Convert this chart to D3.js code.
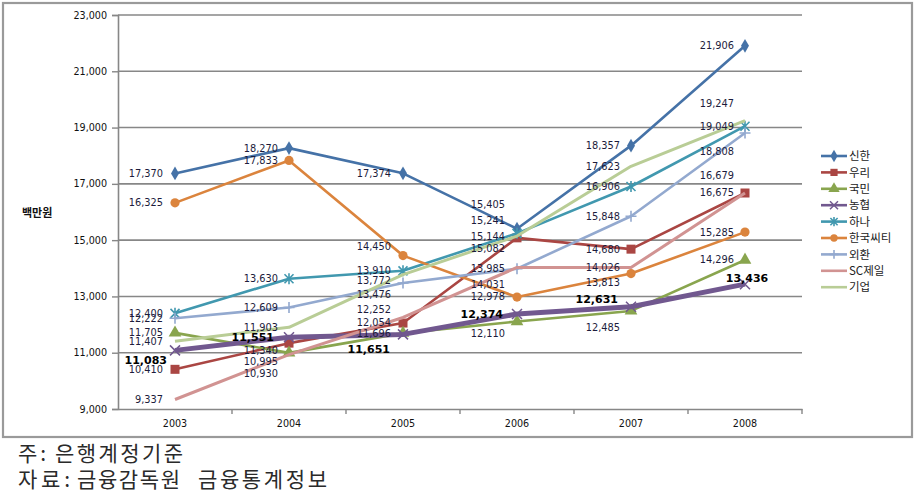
<!DOCTYPE html>
<html><head><meta charset="utf-8">
<script src="https://cdn.jsdelivr.net/npm/d3@7"></script>
<style>
html,body{margin:0;padding:0;background:#fff;}
svg{display:block;}
</style></head>
<body>
<svg id="chart" width="918" height="498"></svg>
<script>
// ---------- data ----------
const years = ["2003","2004","2005","2006","2007","2008"];
const seriesNames = ["신한","우리","국민","농협","하나","한국씨티","외환","SC제일","기업"];
const shinhan  = [17370,18270,17374,15405,18357,21906];
const woori    = [10410,11340,12054,15082,14680,16675];
const kookmin  = [11705,10995,11696,12110,12485,14296];
const nonghyup = [11083,11551,11651,12374,12631,13436];
const hana     = [12400,13630,13910,15241,16906,19049];
const citi     = [16325,17833,14450,12978,13813,15285];
const keb      = [12222,12609,13476,13985,15848,18808];
const scfirst  = [9337,10930,12252,14031,14026,16679];
const ibk      = [11407,11903,13772,15144,17623,19247];
const yTicks = [9000,11000,13000,15000,17000,19000,21000,23000];
const yTitle = "백만원";
const noteParts = [["주:","은행계정기준"],["자료:","금융감독원","금융통계정보"]];

// ---------- layout / style (not data) ----------
const colors = ["#4572A7","#AA4643","#89A54E","#71588F","#4198AF","#DB843D","#93A9CF","#D19392","#B9CD96"];
const markers = ["diamond","square","triangle","x","star","circle","plus","none","none"];
const widths = [2.6,2.6,2.6,5,2.6,2.6,2.6,3,3];
// label vertical pixel nudges (manual label placement of the original)
const labelDy = [
  [0,0,0,-24,0,0],
  [0,7,0,11,0,0],
  [0,9,0,12,17,0],
  [10,0,15,0,-7.5,-6],
  [0,0,0,-13,0,0],
  [0,0,-9,0,9,0],
  [0,0,12,0,0,19],
  [0,19,-8,17,0,-17],
  [0,0,6,0,0,-17]
];
const labelDx = [
  [-12,-11,-12,-12,-11,-11],
  [-12,-11,-12,-12,-11,-11],
  [-12,-11,-12,-12,-11,-11],
  [-8,-15,-13,-14,-13,2],
  [-12,-11,-12,-12,-11,-11],
  [-12,-11,-12,-12,-11,-11],
  [-12,-11,-12,-12,-11,-11],
  [-12,-11,-12,-12,-11,-11],
  [-12,-11,-12,-12,-11,-11]
];
const noteX = [[18,55],[18,77,198]];
const noteW = [[28,128],[52,103,129]];
const boldSeries = 3;

const allValues = [shinhan,woori,kookmin,nonghyup,hana,citi,keb,scfirst,ibk];
const series = seriesNames.map((n,i)=>({name:n, values:allValues[i], color:colors[i], marker:markers[i], width:widths[i], idx:i}));

const svg = d3.select("#chart");
const pL = 118, pR = 802, pT = 15, pB = 409;
const x = d3.scaleBand().domain(years).range([pL,pR]).paddingInner(0).paddingOuter(0);
const xc = d => x(d) + x.bandwidth()/2;
const y = d3.scaleLinear().domain([9000,23000]).range([pB,pT]);

// outer border
svg.append("rect").attr("x",3).attr("y",3).attr("width",909).attr("height",434)
  .attr("fill","#fff").attr("stroke","#9a9a9a").attr("stroke-width",2.2);

// gridlines
svg.append("g").selectAll("line").data(yTicks.filter(t=>t>9000)).join("line")
  .attr("x1",pL).attr("x2",pR).attr("y1",d=>y(d)).attr("y2",d=>y(d))
  .attr("stroke","#878787").attr("stroke-width",1.6);

// y axis
const yAxis = d3.axisLeft(y).tickValues(yTicks).tickFormat(d3.format(",")).tickSize(6).tickPadding(5);
const gy = svg.append("g").attr("transform",`translate(${pL},0)`).call(yAxis);
gy.select(".domain").attr("stroke","#878787").attr("stroke-width",1.6);
gy.selectAll(".tick line").attr("stroke","#878787").attr("stroke-width",1.4);
gy.selectAll("text").attr("font-family","DejaVu Sans, Verdana, sans-serif").attr("font-size","9.6px").attr("fill","#111");

// x axis
const xAxis = d3.axisBottom(x).tickSize(0).tickPadding(11);
const gx = svg.append("g").attr("transform",`translate(0,${pB})`).call(xAxis);
gx.select(".domain").attr("stroke","#878787").attr("stroke-width",1.6);
gx.selectAll("text").attr("font-family","DejaVu Sans, Verdana, sans-serif").attr("font-size","9.6px").attr("fill","#111");
// category boundary ticks
gx.append("g").selectAll("line").data(years.slice(1).concat(["end"])).join("line")
  .attr("x1",d=> d==="end"? pR : x(d)).attr("x2",d=> d==="end"? pR : x(d))
  .attr("y1",0).attr("y2",5).attr("stroke","#878787").attr("stroke-width",1.4);

// y title
svg.append("text").attr("x",22).attr("y",217).text(yTitle)
  .attr("font-family","Noto Sans CJK KR, sans-serif").attr("font-size","11px").attr("font-weight","bold").attr("fill","#111");

// marker drawing
function drawMarker(g, type, color, size){
  const s = size||1;
  if(type==="diamond"){
    g.append("path").attr("d",d3.symbol(d3.symbolDiamond, 55*s)()).attr("fill",color);
  } else if(type==="square"){
    g.append("rect").attr("x",-4.5*s).attr("y",-4.5*s).attr("width",9*s).attr("height",9*s).attr("fill",color);
  } else if(type==="triangle"){
    g.append("path").attr("d",d3.symbol(d3.symbolTriangle, 70*s)()).attr("fill",color);
  } else if(type==="x"){
    const r=5*s;
    g.append("path").attr("d",`M${-r},${-r}L${r},${r}M${-r},${r}L${r},${-r}`).attr("stroke",color).attr("stroke-width",1.5);
  } else if(type==="star"){
    const r=4.5*s;
    g.append("path").attr("d",`M${-r},${-r}L${r},${r}M${-r},${r}L${r},${-r}M0,${-r-1}L0,${r+1}`).attr("stroke",color).attr("stroke-width",1.6);
  } else if(type==="circle"){
    g.append("circle").attr("r",4.6*s).attr("fill",color);
  } else if(type==="plus"){
    const r=5.5*s;
    g.append("path").attr("d",`M${-r},0L${r},0M0,${-r}L0,${r}`).attr("stroke",color).attr("stroke-width",1.6);
  }
}

// lines
const line = d3.line().x((d,i)=>xc(years[i])).y(d=>y(d));
const plot = svg.append("g");
series.forEach(s=>{
  const g = plot.append("g");
  g.append("path").attr("d",line(s.values)).attr("fill","none")
    .attr("stroke",s.color).attr("stroke-width",s.width).attr("stroke-linejoin","round");
  s.values.forEach((v,i)=>{
    const mg = g.append("g").attr("transform",`translate(${xc(years[i])},${y(v)})`);
    drawMarker(mg, s.marker, s.color, 1);
  });
});

// labels
const fmt = d3.format(",");
const lab = svg.append("g");
series.forEach(s=>{
  s.values.forEach((v,i)=>{
    const bold = s.idx===boldSeries;
    const centered = bold && i===5;
    lab.append("text")
      .attr("x", xc(years[i]) + labelDx[s.idx][i])
      .attr("y", y(v) + labelDy[s.idx][i])
      .attr("dy","0.35em")
      .attr("text-anchor", centered ? "middle" : "end")
      .attr("font-family","DejaVu Sans, Verdana, sans-serif")
      .attr("font-size", bold ? "11px" : "9.8px")
      .attr("font-weight", bold ? "bold" : "normal")
      .attr("fill", bold ? "#000" : "#1c1c3c")
      .text(fmt(v));
  });
});

// legend
const lg = svg.append("g");
series.forEach((s,i)=>{
  const ly = 156 + i*16.4;
  const g = lg.append("g").attr("transform",`translate(0,${ly})`);
  g.append("line").attr("x1",821).attr("x2",847).attr("y1",0).attr("y2",0)
    .attr("stroke",s.color).attr("stroke-width",2.6);
  const mg = g.append("g").attr("transform","translate(834,0)");
  drawMarker(mg, s.marker, s.color, 0.8);
  g.append("text").attr("x",849).attr("y",0).attr("dy","0.36em").text(s.name)
    .attr("font-family","Noto Sans CJK KR, sans-serif").attr("font-size","11.5px").attr("fill","#222");
});

// notes
noteParts.forEach((parts,i)=>{
  const t = svg.append("text").attr("y",461 + i*26)
    .attr("font-family","Noto Sans CJK KR, sans-serif").attr("font-size","21px")
    .attr("fill","#2a2a2a");
  parts.forEach((p,j)=>{
    t.append("tspan").attr("x",noteX[i][j]).attr("textLength",noteW[i][j]).attr("lengthAdjust","spacing").text(p);
  });
});
</script>
</body></html>
